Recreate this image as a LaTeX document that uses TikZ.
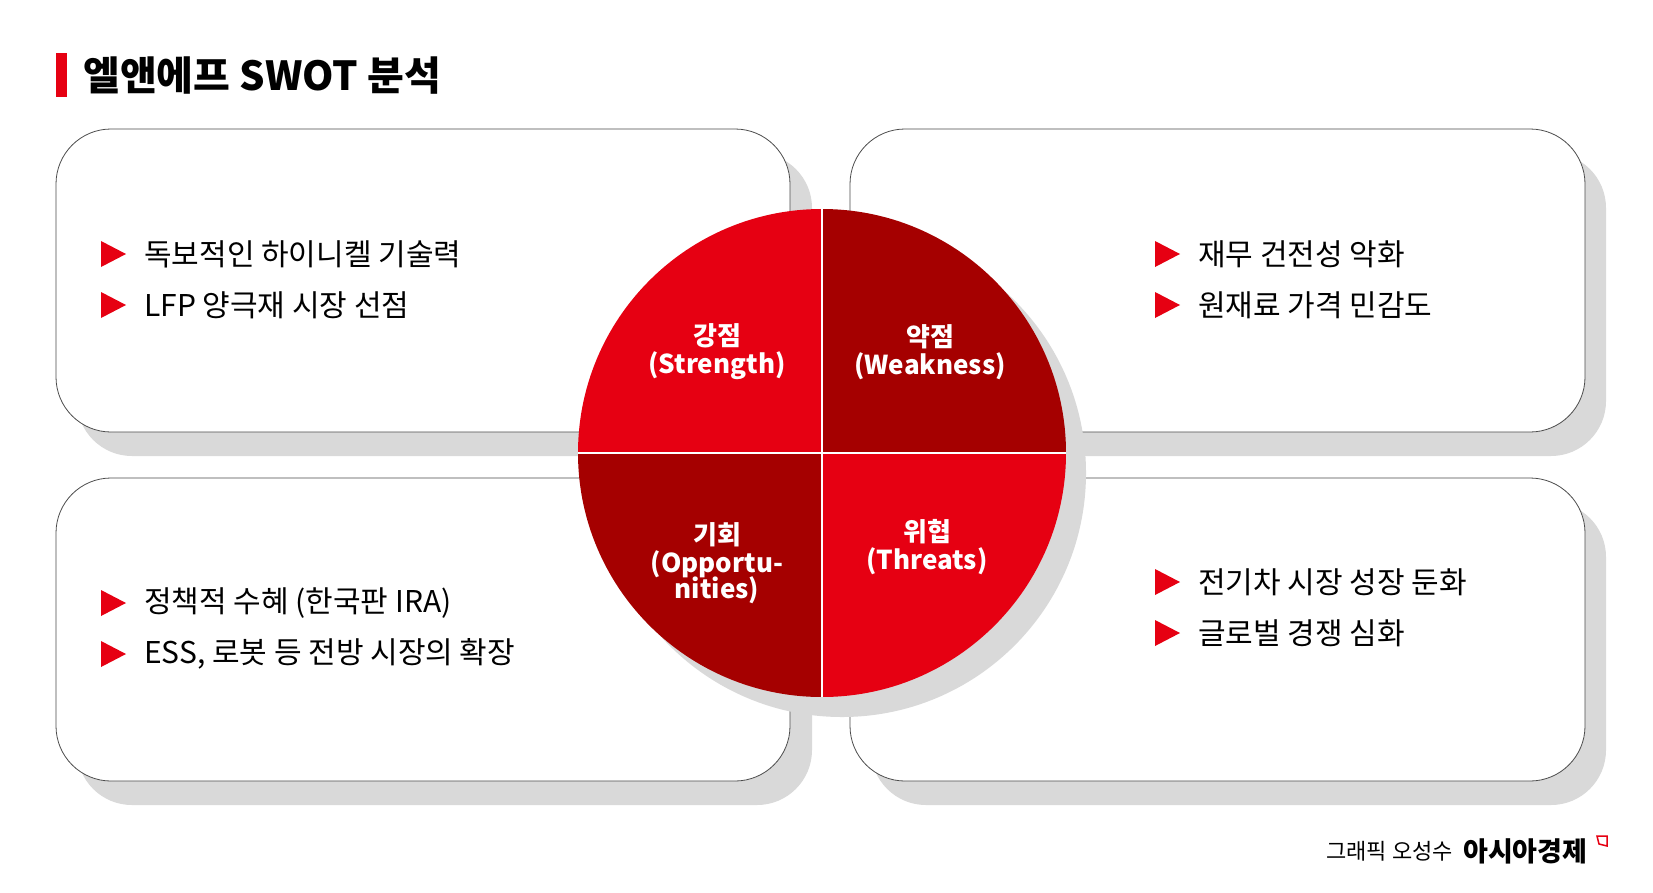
\documentclass[tikz,border=0pt]{standalone}
\usepackage{fontspec}
\setmainfont{Noto Sans CJK KR}
\begin{document}
\begin{tikzpicture}[x=1pt,y=-1pt,
  box/.style={draw=black!70,line width=0.8pt,fill=white,rounded corners=55pt},
  shadow/.style={fill=black!15,rounded corners=55pt},
  item/.style={anchor=west,font=\fontsize{30}{32}\selectfont,inner sep=0pt},
  qlab/.style={text=white,align=center,font=\fontsize{26}{30}\selectfont\bfseries,inner sep=0pt}]
\useasboundingbox (0,0) rectangle (1653,892);
\fill[white] (0,0) rectangle (1653,892);
\definecolor{myred}{HTML}{E60012}
\definecolor{mydark}{HTML}{A50000}
% title
\fill[myred] (56,53) rectangle (67,97);
\node[anchor=west,inner sep=0pt,font=\fontsize{40}{44}\selectfont\bfseries] (title) at (83,76) {엘앤에프 SWOT 분석};
% shadows
\foreach \x/\y in {56/129,850/129,56/478,850/478}{
  \fill[shadow] (\x+21,\y+24) rectangle (\x+756,\y+327);
}
\draw[box] (56,129) rectangle (790,432);
\draw[box] (850,129) rectangle (1585,432);
\draw[box] (56,478) rectangle (790,781);
\draw[box] (850,478) rectangle (1585,781);
% circle shadow
\fill[black!15] (842,473) circle (244);
\coordinate (c) at (822,453);
\begin{scope}
\clip (c) circle (244);
\fill[myred] (578,209) rectangle (822,453);
\fill[mydark] (822,209) rectangle (1066,453);
\fill[mydark] (578,453) rectangle (822,697);
\fill[myred] (822,453) rectangle (1066,697);
\end{scope}
\draw[white,line width=2pt] (578,453) -- (1066,453) (822,209) -- (822,697);
% labels
\node[qlab] (s) at (717,352) {강점\\[-2pt](Strength)};
\node[qlab] (w) at (930,352) {약점\\[-2pt](Weakness)};
\node[qlab] (o) at (717,563) {기회\\[-2pt](Opportu-\\[-4pt]nities)};
\node[qlab] (t) at (927,547) {위협\\[-2pt](Threats)};
% bullets
\foreach \x/\y/\t [count=\i] in {
 101/254/독보적인 하이니켈 기술력,
 101/305/LFP 양극재 시장 선점,
 1155/254/재무 건전성 악화,
 1155/305/원재료 가격 민감도,
 101/603/정책적 수혜 (한국판 IRA),
 101/654/{ESS, 로봇 등 전방 시장의 확장},
 1155/582/전기차 시장 성장 둔화,
 1155/633/글로벌 경쟁 심화}{
  \fill[myred] (\x,\y-13) -- (\x+25,\y) -- (\x,\y+13) -- cycle;
  \node[item] (b\i) at (\x+43,\y) {\t};
}
% footer
\node[anchor=east,inner sep=0pt,font=\fontsize{22}{24}\selectfont] (g) at (1453,851) {그래픽 오성수};
\node[anchor=west,inner sep=0pt,font=\fontsize{27}{30}\selectfont\bfseries] (a) at (1463,851) {아시아경제};
\draw[myred,line width=1.5pt] (1597,836) -- (1607,836) -- (1607,846) -- (1599,844) -- cycle;
\end{tikzpicture}
\end{document}
